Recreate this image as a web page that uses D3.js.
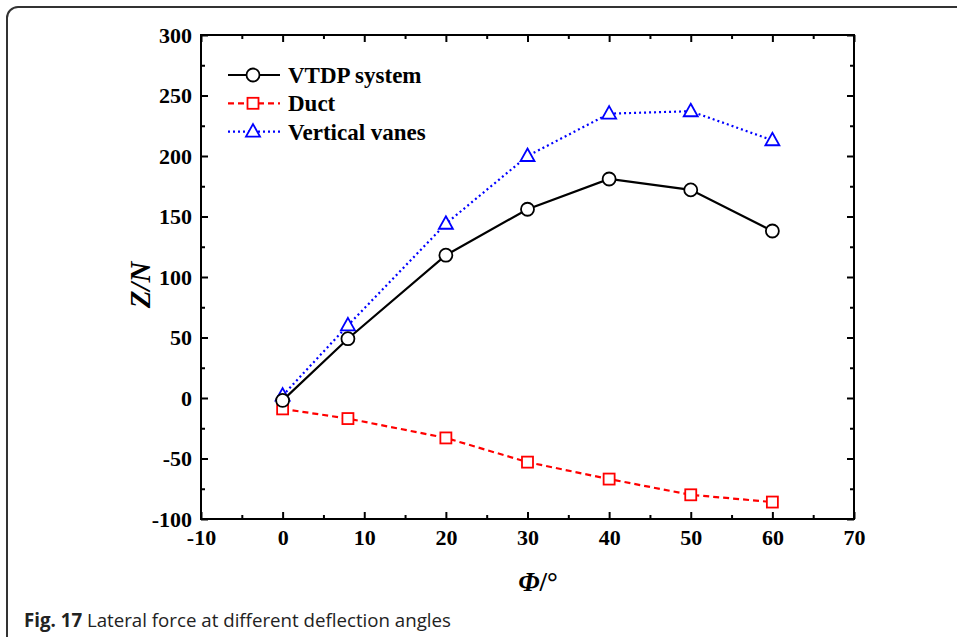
<!DOCTYPE html>
<html>
<head>
<meta charset="utf-8">
<script src="https://cdn.jsdelivr.net/npm/d3@7"></script>
<style>
  body { margin: 0; background: #fff; }
  svg { display: block; }
</style>
</head>
<body>
<svg id="drawing_region"></svg>
<script>
// deflection angle (deg)
const angles = [0, 8, 20, 30, 40, 50, 60];
// lateral force Z (N)
const vtdp = [-2, 49, 118, 156, 181, 172, 138];
const duct = [-9, -17, -33, -53, -67, -80, -86];
const vanes = [2, 60, 144, 200, 235, 237, 213];

const xTicks = [-10, 0, 10, 20, 30, 40, 50, 60, 70];
const yTicks = [-100, -50, 0, 50, 100, 150, 200, 250, 300];

const seriesNames = ['VTDP system', 'Duct', 'Vertical vanes'];

const config = {
    width: 957,
    height: 637,
    margin: {top: 35, right: 103, bottom: 118, left: 201}
};

const svg = d3.select('#drawing_region')
    .attr('width', config.width)
    .attr('height', config.height);

// rounded figure border
svg.append('rect')
    .attr('x', 7).attr('y', 7)
    .attr('width', 1000).attr('height', 1000)
    .attr('rx', 11)
    .attr('fill', 'none')
    .attr('stroke', '#333')
    .attr('stroke-width', 2);

const inner_width = config.width - config.margin.left - config.margin.right;
const inner_height = config.height - config.margin.top - config.margin.bottom;

const chart = svg.append('g')
    .attr('transform', `translate(${config.margin.left}, ${config.margin.top})`);

const xscale = d3.scaleLinear().domain([-10, 70]).range([0, inner_width]);
const yscale = d3.scaleLinear().domain([-100, 300]).range([inner_height, 0]);

const xMinor = d3.range(-5, 70, 10);
const yMinor = d3.range(-75, 300, 50);

const plain = d => String(d);  // hyphen minus like the original

function styleAxis(g) {
    g.select('.domain').remove();
    g.selectAll('line').attr('stroke', '#000').attr('stroke-width', 2);
    g.selectAll('text')
        .attr('font-family', '"Liberation Serif", "Times New Roman", serif')
        .attr('font-weight', 'bold')
        .attr('font-size', 22)
        .attr('fill', '#000');
}

// bottom
chart.append('g')
    .attr('transform', `translate(0, ${inner_height})`)
    .call(d3.axisBottom(xscale).tickValues(xTicks).tickSize(-7).tickPadding(10).tickFormat(plain))
    .call(styleAxis);
chart.append('g')
    .attr('transform', `translate(0, ${inner_height})`)
    .call(d3.axisBottom(xscale).tickValues(xMinor).tickSize(-4).tickFormat(''))
    .call(styleAxis);
// top
chart.append('g')
    .call(d3.axisTop(xscale).tickValues(xTicks).tickSize(-7).tickFormat(''))
    .call(styleAxis);
chart.append('g')
    .call(d3.axisTop(xscale).tickValues(xMinor).tickSize(-4).tickFormat(''))
    .call(styleAxis);
// left
chart.append('g')
    .call(d3.axisLeft(yscale).tickValues(yTicks).tickSize(-7).tickPadding(9).tickFormat(plain))
    .call(styleAxis);
chart.append('g')
    .call(d3.axisLeft(yscale).tickValues(yMinor).tickSize(-4).tickFormat(''))
    .call(styleAxis);
// right
chart.append('g')
    .attr('transform', `translate(${inner_width}, 0)`)
    .call(d3.axisRight(yscale).tickValues(yTicks).tickSize(-7).tickFormat(''))
    .call(styleAxis);
chart.append('g')
    .attr('transform', `translate(${inner_width}, 0)`)
    .call(d3.axisRight(yscale).tickValues(yMinor).tickSize(-4).tickFormat(''))
    .call(styleAxis);

// frame
chart.append('rect')
    .attr('width', inner_width)
    .attr('height', inner_height)
    .attr('fill', 'none')
    .attr('stroke', '#000')
    .attr('stroke-width', 2);

const series = [
    {name: seriesNames[0], values: vtdp, color: '#000', dash: null, shape: 'circle'},
    {name: seriesNames[1], values: duct, color: '#ff0000', dash: '6,4', shape: 'square'},
    {name: seriesNames[2], values: vanes, color: '#0000ff', dash: '2,3', shape: 'triangle'}
];

const line = d3.line()
    .x((d, i) => xscale(angles[i]))
    .y(d => yscale(d));

function drawMarker(g, shape, color) {
    if (shape === 'circle') {
        g.append('circle').attr('r', 6.5);
    } else if (shape === 'square') {
        g.append('rect').attr('x', -5.5).attr('y', -5.5).attr('width', 11).attr('height', 11);
    } else {
        g.append('path').attr('d', 'M0,-7.5L7,5L-7,5Z');
    }
    g.selectAll('*')
        .attr('fill', '#fff')
        .attr('stroke', color)
        .attr('stroke-width', 1.8);
}

// draw in order: duct, vanes, vtdp
[series[1], series[2], series[0]].forEach(s => {
    chart.append('path')
        .datum(s.values)
        .attr('d', line)
        .attr('fill', 'none')
        .attr('stroke', s.color)
        .attr('stroke-width', 2.2)
        .attr('stroke-dasharray', s.dash);

    chart.selectAll(null)
        .data(s.values)
        .enter()
        .append('g')
        .attr('transform', (d, i) => `translate(${xscale(angles[i])}, ${yscale(d)})`)
        .each(function() { drawMarker(d3.select(this), s.shape, s.color); });
});

// legend
const legend = svg.append('g').attr('transform', 'translate(228, 75)');
series.forEach((s, i) => {
    const row = legend.append('g').attr('transform', `translate(0, ${i * 28.3})`);
    row.append('line')
        .attr('x1', 0).attr('x2', 52)
        .attr('stroke', s.color)
        .attr('stroke-width', 2.2)
        .attr('stroke-dasharray', s.dash);
    drawMarker(row.append('g').attr('transform', 'translate(25, 0)'), s.shape, s.color);
    row.append('text')
        .attr('x', 60)
        .attr('dy', '0.35em')
        .attr('font-family', '"Liberation Serif", "Times New Roman", serif')
        .attr('font-weight', 'bold')
        .attr('font-size', 23)
        .text(s.name);
});

// axis titles
svg.append('text')
    .attr('transform', 'translate(150, 285) rotate(-90)')
    .attr('text-anchor', 'middle')
    .attr('font-family', '"Liberation Serif", "Times New Roman", serif')
    .attr('font-weight', 'bold')
    .attr('font-style', 'italic')
    .attr('font-size', 29)
    .text('Z/N');

svg.append('text')
    .attr('x', 538)
    .attr('y', 591)
    .attr('text-anchor', 'middle')
    .attr('font-family', '"Liberation Serif", "Times New Roman", serif')
    .attr('font-weight', 'bold')
    .attr('font-size', 27)
    .call(t => {
        t.append('tspan').attr('font-style', 'italic').text('Φ');
        t.append('tspan').text('/°');
    });

// caption
const caption = svg.append('text')
    .attr('x', 24)
    .attr('y', 627)
    .attr('font-family', '"Open Sans", "Noto Sans", sans-serif')
    .attr('font-size', 19)
    .attr('fill', '#222')
    .attr('textLength', 427)
    .attr('lengthAdjust', 'spacingAndGlyphs');
caption.append('tspan').attr('font-weight', 'bold').text('Fig. 17');
caption.append('tspan').text(' Lateral force at different deflection angles');
</script>
</body>
</html>
